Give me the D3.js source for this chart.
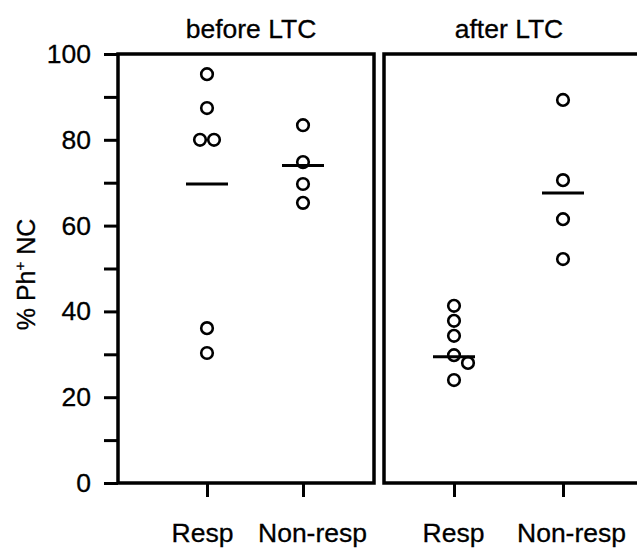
<!DOCTYPE html>
<html lang="en">
<head>
<meta charset="UTF-8">
<title>% Ph+ NC before / after LTC</title>
<script src="https://d3js.org/d3.v7.min.js"></script>
<style>
body { margin: 0; background: #fff; }
svg text { font-family: "Liberation Sans", Arial, sans-serif; fill: #000; stroke: #000; stroke-width: 0.3px; }
</style>
</head>
<body>
<svg width="637" height="554"></svg>
<script>
// values (% Ph+ NC)
var panels = ['before LTC', 'after LTC'];
var groups = ['Resp', 'Non-resp'];
var beforeResp = [95.3, 87.4, 80.0, 80.0, 36.1, 30.3];
var beforeNonResp = [83.4, 74.8, 69.7, 65.3];
var afterResp = [41.3, 37.8, 34.3, 29.8, 28.0, 24.0];
var afterNonResp = [89.3, 70.6, 61.5, 52.2];
var barValues = [[69.7, 74.0], [29.4, 67.6]]; // horizontal bars per panel/group
var yTicks = [0, 20, 40, 60, 80, 100];

var series = [[beforeResp, beforeNonResp], [afterResp, afterNonResp]];

var svg = d3.select('svg');
var plotTop = 54, plotBottom = 483;
var r = 5.8;
var fs = 26.5;

// panel frames: x0, x1, where the two categories sit inside, label nudges
var layout = [
    { x0: 118, x1: 374, a: 89, b: 185, la: -5, lb: 9, tx: 5 },
    { x0: 384, x1: 640, a: 70, b: 179, la: -1, lb: 8, tx: -3 }
];

var y = d3.scaleLinear().domain([0, 100]).range([plotBottom, plotTop]);

// y axis, ticks every 10, labels every 20
var yAxis = d3.axisLeft(y)
    .tickValues(d3.range(0, 101, 10))
    .tickSize(14)
    .tickPadding(13)
    .tickFormat(function(d) { return yTicks.indexOf(d) >= 0 ? d : ''; });

var gy = svg.append('g')
    .attr('transform', 'translate(' + layout[0].x0 + ',0)')
    .call(yAxis);
gy.select('.domain').remove();
gy.selectAll('line').attr('stroke', '#000').attr('stroke-width', 3);
gy.selectAll('text').attr('font-size', fs);

// spread points that would overlap
function dodge(vals, cx) {
    var placed = [];
    var counts = {};
    vals.forEach(function(v) { counts[v] = (counts[v] || 0) + 1; });
    var seen = {};
    return vals.map(function(v) {
        var n = counts[v];
        var k = seen[v] = (seen[v] === undefined ? 0 : seen[v] + 1);
        var x = cx + (k - (n - 1) / 2) * 14;
        var py = y(v);
        if (n === 1) {
            while (placed.some(function(p) { return Math.abs(p.y - py) < 2 * r + 1 && Math.abs(p.x - x) < 2 * r + 1; })) {
                x += 14;
            }
        }
        var p = { x: x, y: py, v: v };
        placed.push(p);
        return p;
    });
}

layout.forEach(function(L, pi) {
    var x = d3.scalePoint().domain(groups).range([L.x0 + L.a, L.x0 + L.b]);
    var g = svg.append('g');

    // frame
    g.append('rect')
        .attr('x', L.x0).attr('y', plotTop)
        .attr('width', L.x1 - L.x0).attr('height', plotBottom - plotTop)
        .attr('fill', 'none').attr('stroke', '#000').attr('stroke-width', 3.5);

    // title
    g.append('text')
        .attr('x', (L.x0 + L.x1) / 2 + L.tx).attr('y', 38)
        .attr('text-anchor', 'middle')
        .attr('font-size', fs)
        .text(panels[pi]);

    // x axis
    var xAxis = d3.axisBottom(x).tickSize(14).tickPadding(26);
    var gx = g.append('g')
        .attr('transform', 'translate(0,' + plotBottom + ')')
        .call(xAxis);
    gx.select('.domain').remove();
    gx.selectAll('line').attr('stroke', '#000').attr('stroke-width', 3);
    gx.selectAll('text')
        .attr('font-size', fs)
        .attr('dx', function(d, i) { return i === 0 ? L.la : L.lb; });

    groups.forEach(function(grp, gi) {
        var pts = dodge(series[pi][gi], x(grp));
        g.selectAll(null)
            .data(pts)
            .enter()
            .append('circle')
            .attr('cx', function(d) { return d.x; })
            .attr('cy', function(d) { return d.y; })
            .attr('r', r)
            .attr('fill', 'none')
            .attr('stroke', '#000')
            .attr('stroke-width', 2.6);

        g.append('line')
            .attr('x1', x(grp) - 21).attr('x2', x(grp) + 21)
            .attr('y1', y(barValues[pi][gi])).attr('y2', y(barValues[pi][gi]))
            .attr('stroke', '#000').attr('stroke-width', 3);
    });
});

// y label with superscript +
var yl = svg.append('text')
    .attr('transform', 'translate(35,' + ((plotTop + plotBottom) / 2 + 6) + ') rotate(-90)')
    .attr('text-anchor', 'middle')
    .attr('font-size', 25);
yl.append('tspan').text('% Ph');
yl.append('tspan').attr('font-size', 15).attr('dy', -10).text('+');
yl.append('tspan').attr('dy', 10).text(' NC');
</script>
</body>
</html>
